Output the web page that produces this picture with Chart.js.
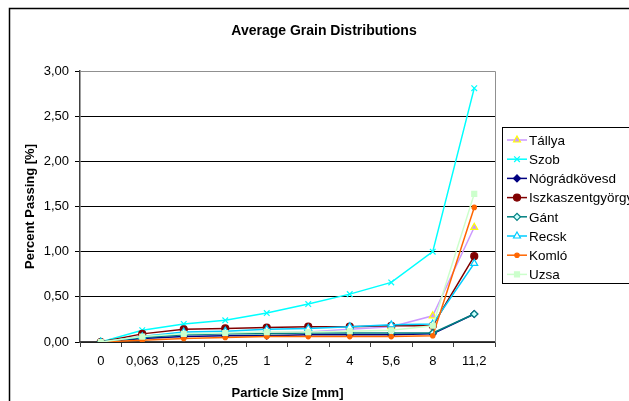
<!DOCTYPE html>
<html>
<head>
<meta charset="utf-8">
<script src="https://cdn.jsdelivr.net/npm/chart.js@4.4.1/dist/chart.umd.min.js"></script>
<style>
  body { margin: 0; background: #fff; }
  #wrap { width: 629px; height: 401px; }
</style>
</head>
<body>
<div id="wrap"><canvas id="grain" width="629" height="401"></canvas></div>
<script>
    // sieve sizes (mm) as shown on the x axis
    var sizes = ['0', '0,063', '0,125', '0,25', '1', '2', '4', '5,6', '8', '11,2'];
    var yTicks = [0, 0.5, 1, 1.5, 2, 2.5, 3];

    // percent passing per site
    var tallya = [0, 0.05, 0.08, 0.09, 0.10, 0.11, 0.14, 0.17, 0.29, 1.27];
    var szob = [0, 0.13, 0.20, 0.24, 0.32, 0.42, 0.53, 0.66, 1.00, 2.81];
    var nogradkovesd = [0, 0.04, 0.06, 0.07, 0.07, 0.08, 0.08, 0.08, 0.09, 0.31];
    var iszkaszentgyorgy = [0, 0.09, 0.14, 0.15, 0.16, 0.17, 0.17, 0.18, 0.18, 0.95];
    var gant = [0, 0.05, 0.08, 0.09, 0.09, 0.10, 0.10, 0.10, 0.10, 0.31];
    var recsk = [0, 0.06, 0.11, 0.12, 0.14, 0.15, 0.17, 0.19, 0.20, 0.87];
    var komlo = [0, 0.02, 0.04, 0.05, 0.06, 0.06, 0.06, 0.06, 0.07, 1.49];
    var uzsa = [0, 0.06, 0.09, 0.10, 0.11, 0.11, 0.12, 0.13, 0.18, 1.64];

    var chartTitle = 'Average Grain Distributions';
    var font = "'Liberation Sans', Arial, sans-serif";

    function series(label, data, line, style, fill, border, radius) {
        return {
            label: label,
            data: data,
            borderColor: line,
            borderWidth: 1.5,
            pointStyle: style,
            pointRadius: radius,
            pointBackgroundColor: fill,
            pointBorderColor: border,
            pointBorderWidth: 1.2,
            tension: 0
        };
    }

    var datasets = [
        series('Tállya', tallya, '#CC99FF', 'triangle', '#CC99FF', '#FFFF00', 4),
        series('Szob', szob, '#00FFFF', 'crossRot', '#00FFFF', '#00FFFF', 4),
        series('Nógrádkövesd', nogradkovesd, '#000080', 'rectRot', '#000080', '#000080', 3.5),
        series('Iszkaszentgyörgy', iszkaszentgyorgy, '#800000', 'circle', '#800000', '#800000', 3.5),
        series('Gánt', gant, '#008080', 'rectRot', '#CCFFFF', '#008080', 3.5),
        series('Recsk', recsk, '#00CCFF', 'triangle', '#FFFFFF', '#00CCFF', 4),
        series('Komló', komlo, '#FF6600', 'circle', '#FF6600', '#FF6600', 2.2),
        series('Uzsa', uzsa, '#CCFFCC', 'rect', '#CCFFCC', '#CCFFCC', 3.5)
    ];
    // Excel paints the last series on top
    datasets.forEach(function(d, i) { d.order = -i; });

    // white background, outer frame, title, plot frame and the legend box
    var framePlugin = {
        id: 'frame',
        beforeDraw: function(chart) {
            var c = chart.ctx;
            c.save();
            c.fillStyle = '#fff';
            c.fillRect(0, 0, chart.width, chart.height);
            c.strokeStyle = '#000';
            c.lineWidth = 1.5;
            c.strokeRect(9.5, 8.5, 800, 600);
            c.fillStyle = '#000';
            c.font = 'bold 14px ' + font;
            c.textAlign = 'center';
            c.textBaseline = 'middle';
            c.fillText(chartTitle, 324, 31);
            c.restore();
        },
        afterDraw: function(chart) {
            var c = chart.ctx;
            var a = chart.chartArea;
            c.save();
            c.strokeStyle = '#909090';
            c.lineWidth = 1;
            c.beginPath();
            c.moveTo(a.left, a.top + 0.5);
            c.lineTo(a.right + 0.5, a.top + 0.5);
            c.lineTo(a.right + 0.5, a.bottom);
            c.stroke();

            // legend
            var bx = 502.5, by = 127.5;
            c.strokeStyle = '#000';
            c.strokeRect(bx, by, 200, 156);
            c.font = '13.5px ' + font;
            c.textBaseline = 'middle';
            c.textAlign = 'left';
            chart.data.datasets.forEach(function(d, i) {
                var y = 140 + i * 19.2;
                c.strokeStyle = d.borderColor;
                c.lineWidth = 1.5;
                c.beginPath();
                c.moveTo(507, y);
                c.lineTo(527, y);
                c.stroke();
                c.fillStyle = d.pointBackgroundColor;
                c.strokeStyle = d.pointBorderColor;
                c.lineWidth = d.pointBorderWidth;
                Chart.helpers.drawPoint(c, {
                    pointStyle: d.pointStyle,
                    radius: d.pointRadius,
                    rotation: 0,
                    borderWidth: d.pointBorderWidth
                }, 517, y);
                c.fillStyle = '#000';
                c.fillText(d.label, 529, y + 1);
            });
            c.restore();
        }
    };

    var ctx = document.getElementById('grain').getContext('2d');

    window.grainChart = new Chart(ctx, {
        type: 'line',
        data: {
            labels: sizes,
            datasets: datasets
        },
        plugins: [framePlugin],
        options: {
            responsive: false,
            animation: false,
            layout: {
                padding: { left: 10, right: 134, top: 71, bottom: 0 }
            },
            plugins: {
                legend: { display: false },
                tooltip: { enabled: false },
                title: { display: false }
            },
            scales: {
                x: {
                    offset: true,
                    grid: {
                        offset: true,
                        drawOnChartArea: false,
                        drawTicks: true,
                        tickLength: 5,
                        color: '#404040'
                    },
                    border: { color: '#404040', width: 1.5 },
                    ticks: {
                        color: '#000',
                        font: { family: font, size: 13 },
                        padding: 7,
                        maxRotation: 0,
                        autoSkip: false
                    },
                    title: {
                        display: true,
                        text: 'Particle Size [mm]',
                        color: '#000',
                        font: { family: font, size: 13, weight: 'bold' },
                        padding: { top: 5, bottom: 0 }
                    },
                    afterFit: function(s) { s.height = 59; }
                },
                y: {
                    min: 0,
                    max: 3,
                    afterBuildTicks: function(s) {
                        s.ticks = yTicks.map(function(v) { return { value: v }; });
                    },
                    grid: {
                        color: '#000',
                        lineWidth: 1,
                        tickLength: 5
                    },
                    border: { color: '#404040', width: 1.5 },
                    ticks: {
                        color: '#000',
                        font: { family: font, size: 13 },
                        padding: 6,
                        callback: function(v) { return v.toFixed(2).replace('.', ','); }
                    },
                    title: {
                        display: true,
                        text: 'Percent Passing [%]',
                        color: '#000',
                        font: { family: font, size: 13, weight: 'bold' },
                        padding: { top: 13, bottom: 6 }
                    },
                    afterFit: function(s) { s.width = 70; }
                }
            }
        }
    });
</script>
</body>
</html>
